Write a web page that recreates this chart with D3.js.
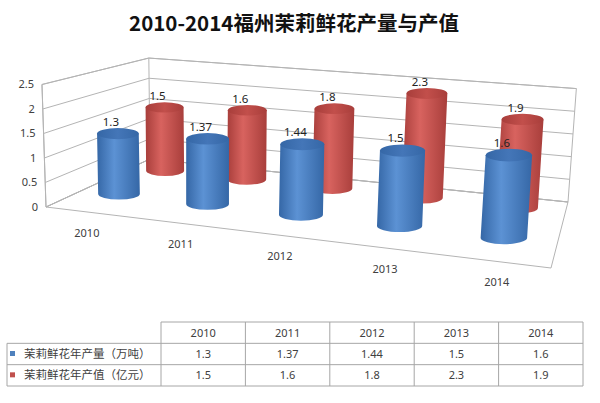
<!DOCTYPE html>
<html>
<head>
<meta charset="utf-8">
<script src="https://cdn.jsdelivr.net/npm/d3@7"></script>
<style>
  body { margin: 0; background: #fff; }
  svg { display: block; }
</style>
</head>
<body>
<div id="chart"></div>
<script>
var years = ["2010", "2011", "2012", "2013", "2014"];
var outputValues = [1.3, 1.37, 1.44, 1.5, 1.6];
var worthValues = [1.5, 1.6, 1.8, 2.3, 1.9];
var seriesNames = ["茉莉鲜花年产量（万吨）", "茉莉鲜花年产值（亿元）"];
var yTicks = [0, 0.5, 1, 1.5, 2, 2.5];
var title = "2010-2014福州茉莉鲜花产量与产值";

var width = 600,
  height = 403;

var svg = d3.select("#chart").append("svg").attr("width", width).attr("height", height);

// floor of the 3d box on screen: front-left, front-right, back-right, back-left
var floorQuad = [[46, 207], [551, 268], [568, 202], [150, 159]];
var unitPx = 49; // px per value unit where w == 1
var tiltX = 207,
  tiltD = 4900; // verticals lean slightly away from x = tiltX

// square -> quad homography
var H = (function (q) {
  var x0 = q[0][0], y0 = q[0][1], x1 = q[1][0], y1 = q[1][1];
  var x2 = q[2][0], y2 = q[2][1], x3 = q[3][0], y3 = q[3][1];
  var dx1 = x1 - x2, dx2 = x3 - x2, dx3 = x0 - x1 + x2 - x3;
  var dy1 = y1 - y2, dy2 = y3 - y2, dy3 = y0 - y1 + y2 - y3;
  var den = dx1 * dy2 - dx2 * dy1;
  var g = (dx3 * dy2 - dx2 * dy3) / den;
  var h = (dx1 * dy3 - dx3 * dy1) / den;
  return {
    a: x1 - x0 + g * x1, b: x3 - x0 + h * x3, c: x0,
    d: y1 - y0 + g * y1, e: y3 - y0 + h * y3, f: y0,
    g: g, h: h
  };
})(floorQuad);

var sx = d3.scaleLinear().domain([-0.42, 4.49]).range([0, 1]); // category index -> floor s
var sz = d3.scaleLinear().domain([-0.65, 1.42]).range([0, 1]); // series index -> floor t
var sy = d3.scaleLinear().domain([0, 2.5]).range([0, 2.5 * unitPx]);

function project(s, t, v) {
  var w = H.g * s + H.h * t + 1;
  var bx = (H.a * s + H.b * t + H.c) / w;
  var by = (H.d * s + H.e * t + H.f) / w;
  var hp = sy(v) / w;
  return { x: bx + ((bx - tiltX) * hp) / tiltD, y: by - hp, w: w };
}

var gridColor = "#b4b4b4";
var textColor = "#404040";
var font = "'Noto Sans', 'Noto Sans CJK SC', sans-serif";

// title
svg
  .append("text")
  .attr("x", 294)
  .attr("y", 31)
  .attr("text-anchor", "middle")
  .attr("font-family", "'Noto Sans CJK SC', sans-serif")
  .attr("font-weight", "bold")
  .attr("font-size", 20.5)
  .attr("fill", "#111")
  .text(title);

// walls
var box = svg.append("g").attr("fill", "none").attr("stroke", gridColor).attr("stroke-width", 1);
var yMax = sy.domain()[1];

box
  .append("path")
  .attr("fill", "#fff")
  .attr("d", function () {
    var p = [project(0, 0, 0), project(0, 1, 0), project(1, 1, 0), project(1, 1, yMax), project(0, 1, yMax), project(0, 0, yMax)];
    return "M" + p.map(function (d) { return d.x + "," + d.y; }).join("L") + "Z";
  });

box
  .selectAll("line.left")
  .data(yTicks)
  .join("line")
  .attr("x1", function (v) { return project(0, 0, v).x; })
  .attr("y1", function (v) { return project(0, 0, v).y; })
  .attr("x2", function (v) { return project(0, 1, v).x; })
  .attr("y2", function (v) { return project(0, 1, v).y; });

box
  .selectAll("line.back")
  .data(yTicks)
  .join("line")
  .attr("x1", function (v) { return project(0, 1, v).x; })
  .attr("y1", function (v) { return project(0, 1, v).y; })
  .attr("x2", function (v) { return project(1, 1, v).x; })
  .attr("y2", function (v) { return project(1, 1, v).y; });

[[0, 0], [0, 1]].forEach(function (c) {
  var p = project(c[0], c[1], 0),
    q = project(c[0], c[1], yMax);
  box.append("line").attr("x1", p.x).attr("y1", p.y).attr("x2", q.x).attr("y2", q.y);
});

// floor
box
  .append("path")
  .attr("d", function () {
    var p = [project(0, 0, 0), project(1, 0, 0), project(1, 1, 0), project(0, 1, 0)];
    return "M" + p.map(function (d) { return d.x + "," + d.y; }).join("L") + "Z";
  });

// value axis labels
svg
  .append("g")
  .attr("font-family", font)
  .attr("font-size", 11)
  .attr("fill", textColor)
  .attr("text-anchor", "end")
  .selectAll("text")
  .data(yTicks)
  .join("text")
  .attr("x", function (v) { return project(0, 0, v).x - 8; })
  .attr("y", function (v) { return project(0, 0, v).y; })
  .attr("dy", "0.35em")
  .text(function (v) { return v; });

// category labels
svg
  .append("g")
  .attr("font-family", font)
  .attr("font-size", 11)
  .attr("fill", textColor)
  .attr("text-anchor", "middle")
  .selectAll("text")
  .data(years)
  .join("text")
  .attr("x", function (d, i) { return project(sx(i), 0, 0).x + 3; })
  .attr("y", function (d, i) { return project(sx(i), 0, 0).y + 25; })
  .text(function (d) { return d; });

// cylinders
var palette = [
  { edge: "#3567a6", mid: "#5c92d4", top: "#4476b8", key: "#4f81bd" },
  { edge: "#a83e3b", mid: "#d8635f", top: "#c24f4b", key: "#c0504d" }
];
var defs = svg.append("defs");
palette.forEach(function (c, i) {
  var lg = defs.append("linearGradient").attr("id", "body" + i).attr("x1", 0).attr("x2", 1).attr("y1", 0).attr("y2", 0);
  lg.append("stop").attr("offset", 0).attr("stop-color", c.edge);
  lg.append("stop").attr("offset", 0.4).attr("stop-color", c.mid);
  lg.append("stop").attr("offset", 1).attr("stop-color", c.edge);
  var tg = defs.append("linearGradient").attr("id", "top" + i).attr("x1", 0).attr("x2", 1).attr("y1", 0).attr("y2", 0);
  tg.append("stop").attr("offset", 0).attr("stop-color", c.edge);
  tg.append("stop").attr("offset", 0.5).attr("stop-color", c.top);
  tg.append("stop").attr("offset", 1).attr("stop-color", c.edge);
});

var series = [outputValues, worthValues];
var bars = [];
series.forEach(function (vals, si) {
  vals.forEach(function (v, i) {
    var base = project(sx(i), sz(si), 0);
    var top = project(sx(i), sz(si), v);
    var rx = 22 / base.w;
    bars.push({ si: si, i: i, v: v, base: base, top: top, rx: rx, ry: rx * 0.27 });
  });
});
// back row first
bars.sort(function (a, b) { return b.si - a.si || a.i - b.i; });

var cyl = svg.append("g").selectAll("g").data(bars).join("g");
cyl
  .append("path")
  .attr("fill", function (d) { return "url(#body" + d.si + ")"; })
  .attr("d", function (d) {
    var b = d.base, t = d.top;
    return "M" + (b.x - d.rx) + "," + b.y +
      "L" + (t.x - d.rx) + "," + t.y +
      "L" + (t.x + d.rx) + "," + t.y +
      "L" + (b.x + d.rx) + "," + b.y +
      "A" + d.rx + "," + d.ry + " 0 0 1 " + (b.x - d.rx) + "," + b.y + "Z";
  });
cyl
  .append("ellipse")
  .attr("cx", function (d) { return d.top.x; })
  .attr("cy", function (d) { return d.top.y; })
  .attr("rx", function (d) { return d.rx; })
  .attr("ry", function (d) { return d.ry; })
  .attr("fill", function (d) { return "url(#top" + d.si + ")"; });

// data labels
svg
  .append("g")
  .attr("font-family", font)
  .attr("font-size", 11.5)
  .attr("fill", "#222")
  .attr("text-anchor", "middle")
  .selectAll("text")
  .data(bars)
  .join("text")
  .attr("x", function (d) { return d.top.x - 7; })
  .attr("y", function (d) { return d.top.y - d.ry - 2; })
  .text(function (d) { return d.v; });

// data table
var col = d3.scaleBand().domain(years).range([161, 583]);
var rowY = d3.scaleBand().domain(["head", 0, 1]).range([322, 386]);
var tableLeft = 7;
var table = svg.append("g").attr("font-family", font).attr("fill", textColor);
var tline = table.append("g").attr("stroke", "#a6a6a6").attr("stroke-width", 1);

tline.append("line").attr("x1", col.range()[0]).attr("x2", col.range()[1]).attr("y1", rowY("head")).attr("y2", rowY("head"));
[0, 1].forEach(function (r) {
  tline.append("line").attr("x1", tableLeft).attr("x2", col.range()[1]).attr("y1", rowY(r)).attr("y2", rowY(r));
});
tline.append("line").attr("x1", tableLeft).attr("x2", col.range()[1]).attr("y1", rowY.range()[1]).attr("y2", rowY.range()[1]);
tline.append("line").attr("x1", tableLeft).attr("x2", tableLeft).attr("y1", rowY(0)).attr("y2", rowY.range()[1]);
tline
  .selectAll("line.col")
  .data(years.concat(["end"]))
  .join("line")
  .attr("x1", function (d) { return d === "end" ? col.range()[1] : col(d); })
  .attr("x2", function (d) { return d === "end" ? col.range()[1] : col(d); })
  .attr("y1", rowY("head"))
  .attr("y2", rowY.range()[1]);

table
  .append("g")
  .attr("font-size", 11)
  .attr("text-anchor", "middle")
  .selectAll("text")
  .data(years)
  .join("text")
  .attr("x", function (d) { return col(d) + col.bandwidth() / 2; })
  .attr("y", rowY("head") + rowY.bandwidth() / 2)
  .attr("dy", "0.35em")
  .text(function (d) { return d; });

series.forEach(function (vals, si) {
  var yc = rowY(si) + rowY.bandwidth() / 2;
  table
    .append("rect")
    .attr("x", 10)
    .attr("y", yc - 3)
    .attr("width", 5)
    .attr("height", 5)
    .attr("fill", palette[si].key);
  table
    .append("text")
    .attr("x", 24)
    .attr("y", yc)
    .attr("dy", "0.35em")
    .attr("font-family", "'Noto Sans CJK SC', sans-serif")
    .attr("font-size", 11.5)
    .text(seriesNames[si]);
  table
    .append("g")
    .attr("font-size", 11)
    .attr("text-anchor", "middle")
    .selectAll("text")
    .data(vals)
    .join("text")
    .attr("x", function (d, i) { return col(years[i]) + col.bandwidth() / 2; })
    .attr("y", yc)
    .attr("dy", "0.35em")
    .text(function (d) { return d; });
});
</script>
</body>
</html>
